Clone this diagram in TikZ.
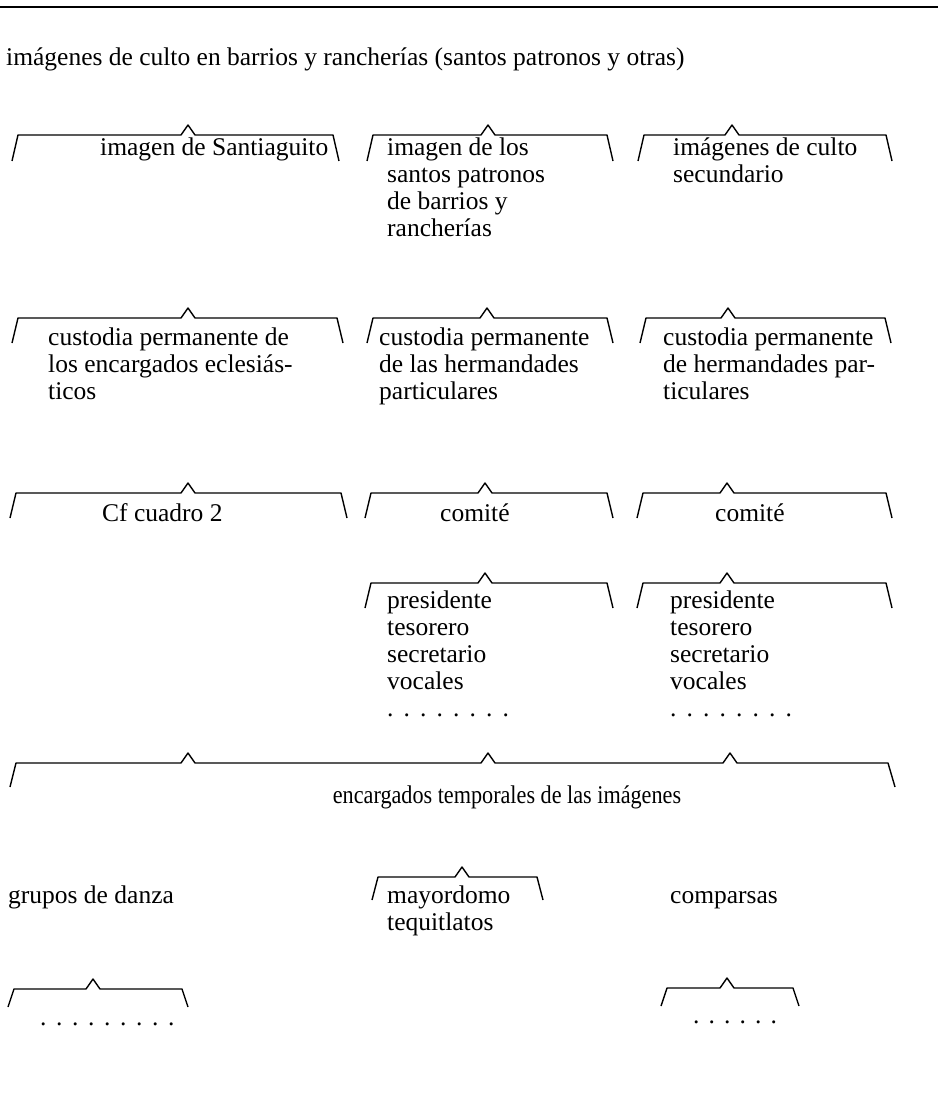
\documentclass[tikz,border=0pt]{standalone}
\usepackage{fontspec}
\usepackage{graphicx}
\setmainfont{Liberation Serif}
\tikzset{
  brk/.style={line width=1.4pt, line join=round},
  lbl/.style={anchor=base west, inner sep=0pt, font=\fontsize{25.5}{27}\selectfont},
  clbl/.style={anchor=base, inner sep=0pt, font=\fontsize{25.5}{27}\selectfont},
}
\newcommand{\txtlines}[1]{\begin{tabular}[t]{@{}l@{}}#1\end{tabular}}
% bracket: #1 left x, #2 caret x, #3 right x, #4 line y, #5 drop
\newcommand{\brkt}[5]{%
  \draw[brk] (#1,#4+#5) -- (#1+6,#4) -- (#2-7,#4) -- (#2,#4-10) -- (#2+7,#4) -- (#3-6,#4) -- (#3,#4+#5);}
\begin{document}
\begin{tikzpicture}[x=1pt,y=-1pt]
\useasboundingbox (0,0) rectangle (938,1099);
\fill[white] (0,0) rectangle (938,1099);
\draw[line width=1.6pt] (0,7) -- (700,7);
\draw[line width=2.4pt] (700,7) -- (938,7);

\node[lbl] (title) at (6,66) {imágenes de culto en barrios y rancherías (santos patronos y otras)};

% row 1
\brkt{12}{188}{339}{135}{26}
\brkt{367}{488}{613}{135}{26}
\brkt{638}{732}{892}{135}{26}
\node[lbl] (santiaguito) at (100,156) {imagen de Santiaguito};
\node[lbl] (patronos) at (387,156) {\txtlines{imagen de los\\santos patronos\\de barrios y\\rancherías}};
\node[lbl] (secund) at (673,156) {\txtlines{imágenes de culto\\secundario}};

% row 2
\brkt{12}{188}{343}{318}{25}
\brkt{367}{487}{613}{318}{25}
\brkt{640}{728}{891}{318}{25}
\node[lbl] (custA) at (48,345) {\txtlines{custodia permanente de\\los encargados eclesiás-\\ticos}};
\node[lbl] (custB) at (379,345) {\txtlines{custodia permanente\\de las hermandades\\particulares}};
\node[lbl] (custC) at (663,345) {\txtlines{custodia permanente\\de hermandades par-\\ticulares}};

% row 3
\brkt{10}{188}{347}{493}{25}
\brkt{365}{485}{613}{493}{25}
\brkt{637}{727}{892}{493}{25}
\node[lbl] (cf) at (102,521) {Cf cuadro 2};
\node[lbl] (comB) at (440,521) {comité};
\node[lbl] (comC) at (715,521) {comité};

% row 4
\brkt{365}{485}{613}{583}{25}
\brkt{637}{727}{892}{583}{25}
\node[lbl] (presB) at (387,608) {\txtlines{presidente\\tesorero\\secretario\\vocales\\{\spaceskip=8pt\relax. . . . . . . .}}};
\node[lbl] (presC) at (670,608) {\txtlines{presidente\\tesorero\\secretario\\vocales\\{\spaceskip=8pt\relax. . . . . . . .}}};

% row 5
\draw[brk] (10,787) -- (16,763) -- (181,763) -- (188,753) -- (195,763) -- (481,763) -- (488,753) -- (495,763) -- (723,763) -- (730,753) -- (737,763) -- (888,763) -- (895,787);
\node[clbl] (temp) at (507,803) {\scalebox{0.87}[1]{encargados temporales de las imágenes}};

% row 6
\node[lbl] (danza) at (8,903) {grupos de danza};
\brkt{372}{462}{543}{877}{23}
\node[lbl] (mayor) at (387,903) {\txtlines{mayordomo\\tequitlatos}};
\node[lbl] (comparsas) at (670,903) {comparsas};

% row 7
\brkt{8}{93}{188}{989}{18}
\node[lbl] (dotsA) at (40,1025) {\spaceskip=7.5pt\relax. . . . . . . . .};
\brkt{661}{727}{799}{988}{18}
\node[lbl] (dotsC) at (693,1023) {\spaceskip=7pt\relax. . . . . .};
\end{tikzpicture}
\end{document}
